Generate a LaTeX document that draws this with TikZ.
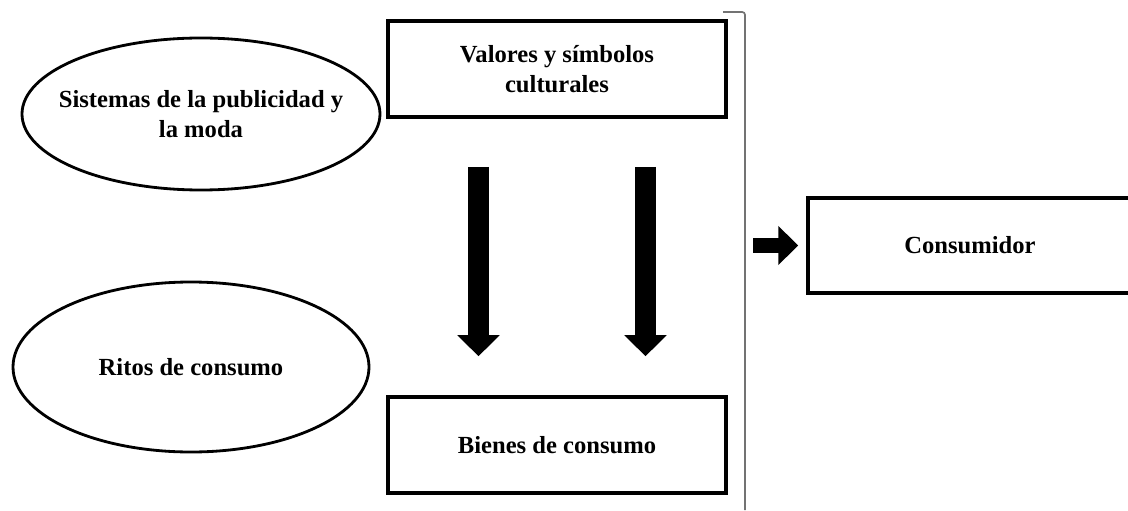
\documentclass[tikz,border=0pt]{standalone}
\usepackage{fontspec}
\setmainfont{Liberation Serif}
\usetikzlibrary{arrows.meta, shapes.geometric, positioning}

\begin{document}
\begin{tikzpicture}[
        every node/.style={font=\bfseries\fontsize{17.5}{21.3}\selectfont, align=center},
        oval/.style={ellipse, draw, line width=2pt, inner sep=0pt},
        box/.style={rectangle, draw, line width=2.5pt, minimum width=8.45cm, minimum height=2.4cm},
        bigarrow/.style={line width=0.525cm, -{Triangle[width=1.025cm,length=0.525cm]}},
        smallarrow/.style={line width=0.375cm, -{Triangle[width=0.95cm,length=0.5cm]}},
        bracket/.style={draw=black!55, line width=1.2pt, rounded corners=2pt},
        ]
        \useasboundingbox (0,0) rectangle (28.2,12.75);

        \node[oval, inner xsep=-0.6cm, minimum width=8.95cm, minimum height=3.8cm] (publicidad) at (5.025,9.9) {Sistemas de la publicidad y\\la moda};
        \node[oval, minimum width=8.9cm, minimum height=4.25cm] (ritos) at (4.775,3.575) {Ritos de consumo};

        \node[box] (valores) at (13.925,11.025) {Valores y símbolos\\culturales};
        \node[box] (bienes) at (13.925,1.625) {Bienes de consumo};
        \node[box, minimum width=8.1cm, minimum height=2.375cm] (consumidor) at (24.25,6.6125) {Consumidor};

        % bracket
        \coordinate (brtop) at (18.075,12.45);
        \draw[bracket] (brtop) -- (18.625,12.45) -- (18.625,0);

        \draw[bigarrow, shorten <=1.2cm, shorten >=0.975cm] ([xshift=-1.9625cm]valores.south) -- ([xshift=-1.9625cm]bienes.north);
        \draw[bigarrow, shorten <=1.2cm, shorten >=0.975cm] ([xshift=2.2125cm]valores.south) -- ([xshift=2.2125cm]bienes.north);

        \coordinate (pin) at (18.825,6.6125);
        \draw[smallarrow, shorten >=0.2cm] (pin) -- (consumidor.west);
      \end{tikzpicture}
\end{document}
